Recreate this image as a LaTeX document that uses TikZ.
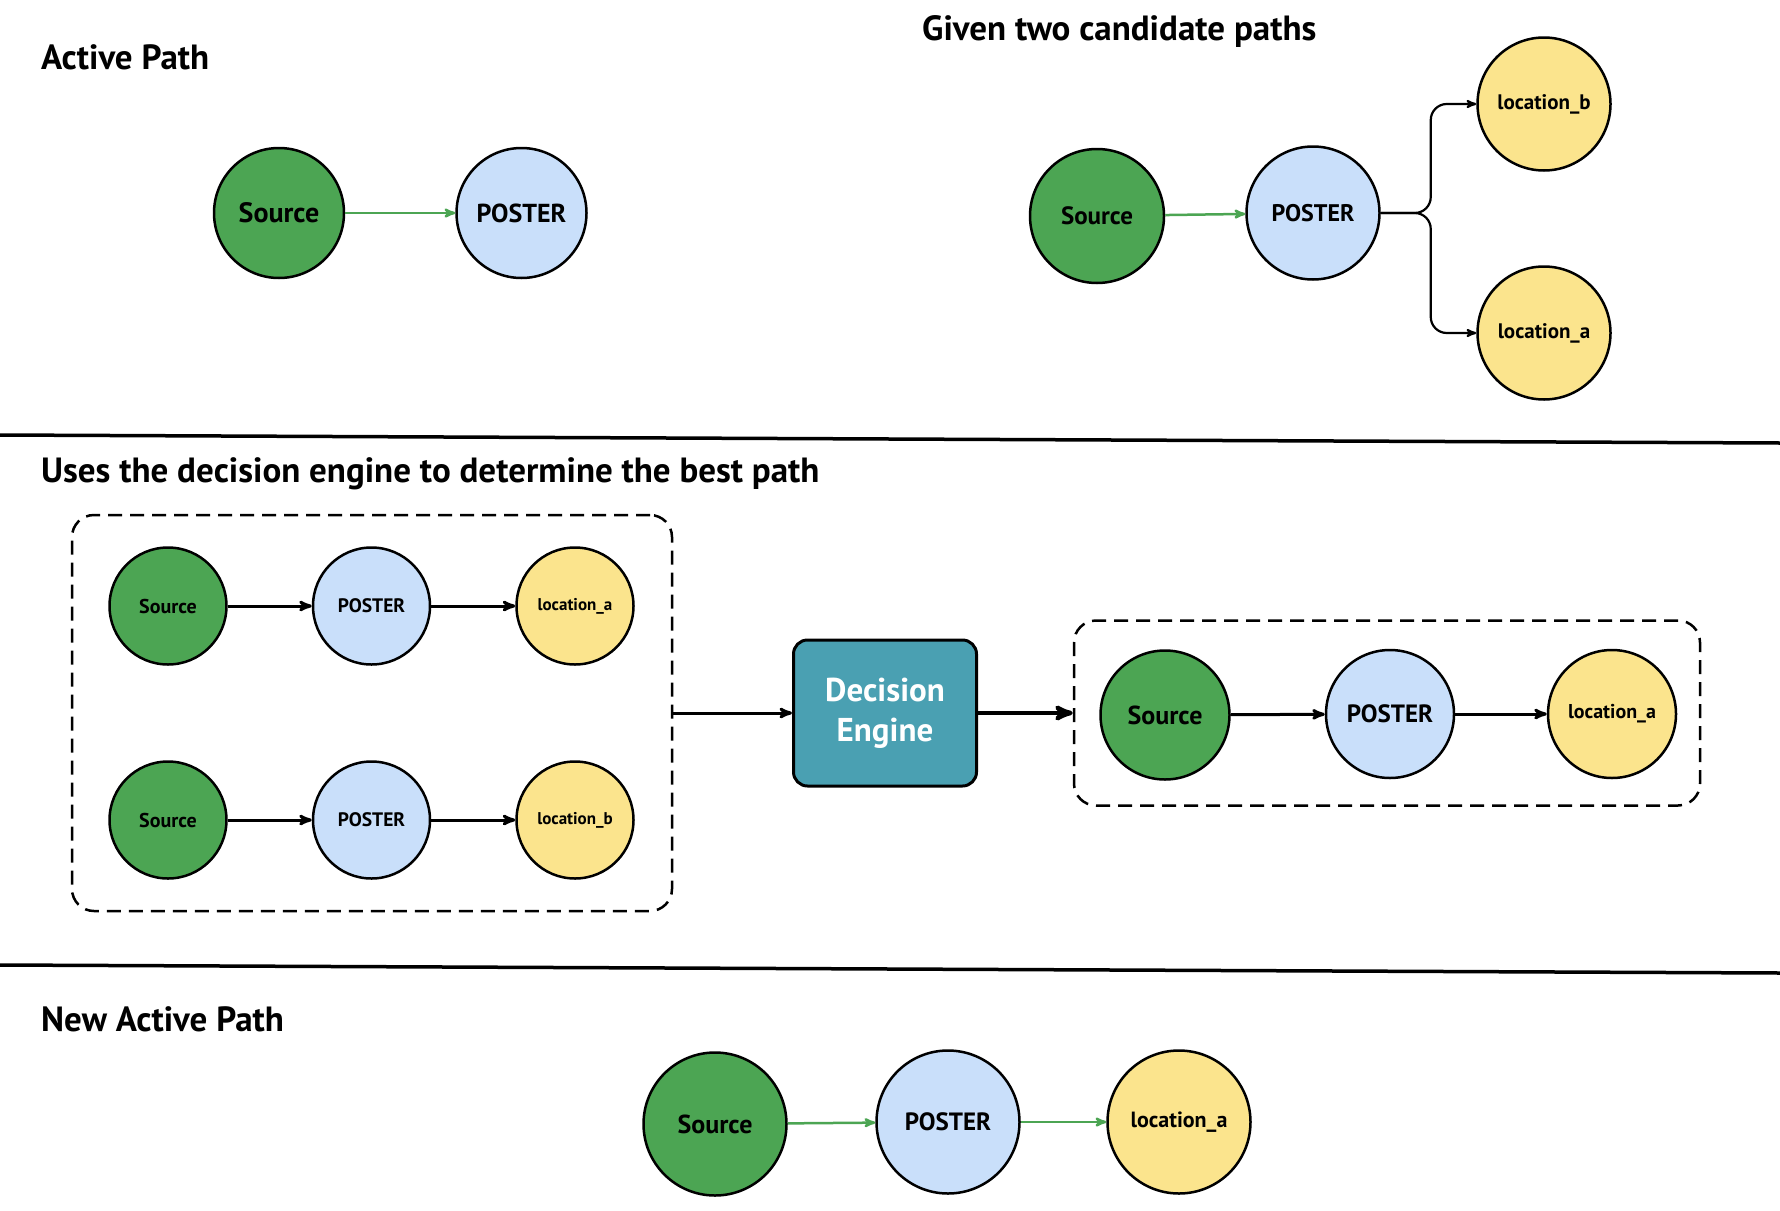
\documentclass[tikz,border=0pt]{standalone}
\usepackage{fontspec}
\setmainfont{PT Sans}
\usepackage{xcolor}
\usepackage{tikz}
\usetikzlibrary{arrows}
\usetikzlibrary{positioning}
\definecolor{srcgreen}{RGB}{76,165,83}
\definecolor{posterblue}{RGB}{201,223,250}
\definecolor{locyellow}{RGB}{251,228,141}
\definecolor{engteal}{RGB}{74,160,178}
\definecolor{flowgreen}{RGB}{76,165,83}
\tikzset{
    pnode/.style = {align=center, inner sep=0pt, text centered, circle, draw=black, line width=2.5pt},
    src_node/.style = {pnode, fill=srcgreen, minimum size=#1},
    src_node/.default = 130pt,
    poster_node/.style = {pnode, fill=posterblue, minimum size=#1},
    poster_node/.default = 130pt,
    loc_node/.style = {pnode, fill=locyellow, minimum size=#1},
    loc_node/.default = 130pt,
    fs/.style = {font=\bfseries\fontsize{#1}{#1}\selectfont},
    engine_node/.style = {align=center, inner sep=0pt, rectangle, rounded corners=14pt, draw=black, fill=engteal, text=white, line width=3pt, minimum width=183pt, minimum height=146pt, font=\bfseries\fontsize{33}{40}\selectfont},
    path_box/.style = {rectangle, rounded corners=22pt, draw=black, dash pattern=on 14pt off 8pt, line width=2.5pt},
    title/.style = {anchor=west, inner sep=0pt, font=\bfseries\fontsize{35}{40}\selectfont},
    divider/.style = {line width=3.5pt},
    green_flow/.style = {->, draw=flowgreen, line width=2.5pt},
    black_flow/.style = {->, draw=black, line width=3pt}
}
\begin{document}
\begin{tikzpicture}[x=1pt, y=-1pt, >=stealth']
    \useasboundingbox (0,0) rectangle (1780,1210);

    \node [title] (t_active) at (41,57) {Active Path};
    \node [src_node, fs=28] (s_act) at (279,213) {Source};
    \node [poster_node, fs=26, right=110pt of s_act] (p_act) {POSTER};
    \draw [green_flow] (s_act) -- (p_act);

    \node [title] (t_cand) at (922,32) {Given two candidate paths};
    \node [src_node=134pt, fs=25] (s_cand) at (1097,216) {Source};
    \node [poster_node=133pt, fs=24] (p_cand) at (1313,213) {POSTER};
    \node [loc_node=133pt, fs=21] (lb_cand) at (1544,104) {location\_b};
    \node [loc_node=133pt, fs=21] (la_cand) at (1544,333) {location\_a};
    \draw [green_flow] (s_cand) -- (p_cand);
    \draw [->, line width=2.2pt, rounded corners=16pt] (p_cand.east) -- ++(50,0) |- (lb_cand.west);
    \draw [->, line width=2.2pt, rounded corners=16pt] (p_cand.east) -- ++(50,0) |- (la_cand.west);

    \draw [divider] (0,435) -- (1780,443);

    \node [title] (t_uses) at (41,474) {Uses the decision engine to determine the best path};
    \node [path_box, minimum width=600pt, minimum height=396pt] (box_cand) at (372,713) {};
    \node [src_node=117pt, fs=20] (s_one) at (168,606) {Source};
    \node [poster_node=117pt, fs=19.5, right=84pt of s_one] (p_one) {POSTER};
    \node [loc_node=117pt, fs=17, right=84pt of p_one] (l_one) {location\_a};
    \node [src_node=117pt, fs=20] (s_two) at (168,820) {Source};
    \node [poster_node=117pt, fs=19.5, right=84pt of s_two] (p_two) {POSTER};
    \node [loc_node=117pt, fs=17, right=84pt of p_two] (l_two) {location\_b};
    \draw [black_flow] (s_one) -- (p_one);
    \draw [black_flow] (p_one) -- (l_one);
    \draw [black_flow] (s_two) -- (p_two);
    \draw [black_flow] (p_two) -- (l_two);

    \node [engine_node] (engine) at (885,713) {Decision\\Engine};
    \draw [black_flow] (box_cand.east) -- (engine.west);

    \node [path_box, minimum width=626pt, minimum height=185pt] (box_best) at (1387,713) {};
    \draw [->, line width=4.5pt] (engine.east) -- (box_best.west);
    \node [src_node=129pt, fs=26] (s_best) at (1165,715) {Source};
    \node [poster_node=128pt, fs=25] (p_best) at (1390,714) {POSTER};
    \node [loc_node=128pt, fs=20] (l_best) at (1612,714) {location\_a};
    \draw [black_flow] (s_best) -- (p_best);
    \draw [black_flow] (p_best) -- (l_best);

    \draw [divider] (0,965) -- (1780,973);

    \node [title] (t_new) at (41,1019) {New Active Path};
    \node [src_node=143pt, fs=26] (s_new) at (715,1124) {Source};
    \node [poster_node=143pt, fs=25] (p_new) at (948,1122) {POSTER};
    \node [loc_node=143pt, fs=22] (l_new) at (1179,1122) {location\_a};
    \draw [green_flow] (s_new) -- (p_new);
    \draw [green_flow] (p_new) -- (l_new);
\end{tikzpicture}
\end{document}
